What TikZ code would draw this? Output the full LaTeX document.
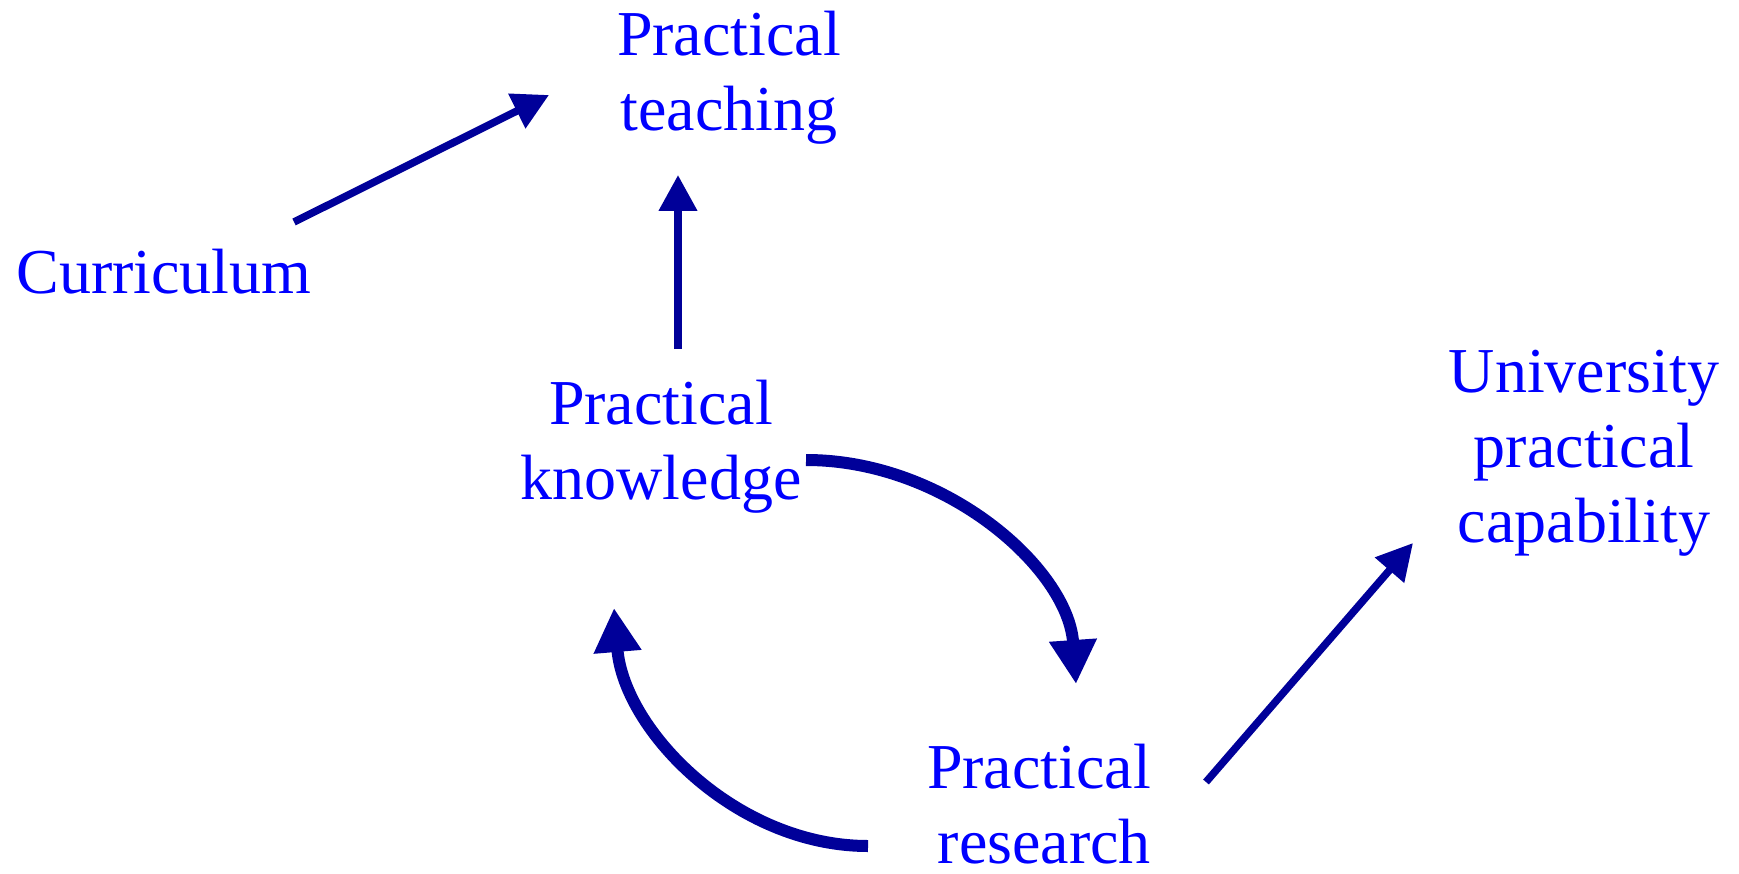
\documentclass[tikz,border=0pt]{standalone}
\usepackage{fontspec}
\setmainfont{Liberation Serif}
\usepackage{tikz}
\usetikzlibrary{arrows.meta,positioning}

\definecolor{txtblue}{RGB}{0,0,255}
\definecolor{arrblue}{RGB}{0,0,153}

\tikzset{concept/.style={text=txtblue,align=center,inner sep=0pt,
    font=\fontsize{64}{75}\selectfont}}
\tikzset{thinarrow/.style={-{Triangle[length=36pt,width=37pt]},draw=arrblue,line width=7.5pt}}
\tikzset{cyclearrow/.style={-{Triangle[length=44pt,width=45pt]},draw=arrblue,line width=12pt}}

\begin{document}
\begin{tikzpicture}[x=1pt,y=-1pt]
  \useasboundingbox (0,0) rectangle (1739,874);
  \node[concept]          (teach) at (729,77.5)  {Practical\\teaching};
  \node[concept,anchor=base] (curr) at (164,294) {Curriculum};
  \node[concept]          (know)  at (661,447)   {Practical\\knowledge};
  \node[concept,align=right] (res) at (1039,804) {Practical\\research};
  \node[concept]          (univ)  at (1584,453.5) {University\\practical\\capability};

\draw[thinarrow] ([shift={(130,-72)}]curr.base) -- ([shift={(-180,17.5)}]teach.center);
\draw[thinarrow] ([shift={(17,-98)}]know.center) -- ([shift={(-51,97.5)}]teach.center);
\draw[cyclearrow] ([shift={(145,13)}]know.center) .. controls +(140,0) and +(-8,-115) .. ([shift={(37,-120)}]res.center);
\draw[cyclearrow] ([shift={(-171,42)}]res.center) .. controls +(-132,0) and +(10,122) .. ([shift={(-47,161)}]know.center);
\draw[thinarrow] ([shift={(167,-22)}]res.center) -- ([shift={(-171,89.5)}]univ.center);
\end{tikzpicture}
\end{document}
